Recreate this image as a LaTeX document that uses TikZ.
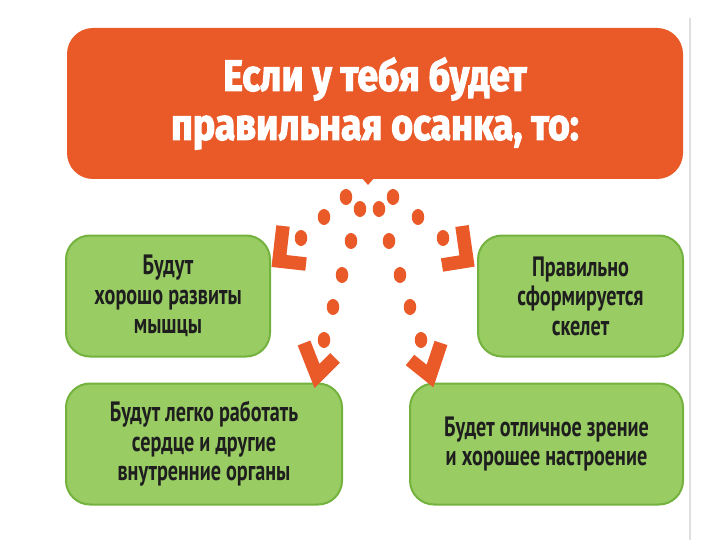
\documentclass[tikz,border=0pt]{standalone}
\usepackage{fontspec}
\setmainfont{PT Sans}
\newfontfamily\titlefont[FakeStretch=0.85, BoldFeatures={FakeBold=2.5}]{Fira Sans}
\newfontfamily\boxfont[FakeStretch=0.72]{PT Sans}
\usetikzlibrary{positioning, calc, shapes.geometric}

\definecolor{posture}{RGB}{234,90,40}
\definecolor{leaf}{RGB}{154,204,100}
\definecolor{leafline}{RGB}{116,178,62}
\definecolor{ink}{RGB}{30,30,30}

\tikzset{
    titlebox/.style={draw=none, fill=posture, rounded corners=26pt,
        minimum width=616pt, minimum height=151pt, text=white, align=center,
        font=\titlefont\bfseries\fontsize{44}{49}\selectfont},
    effect/.style={draw=leafline, line width=2pt, fill=leaf, rounded corners=24pt,
        minimum height=121pt, text=ink, align=center,
        font=\boxfont\bfseries\fontsize{28}{29.5}\selectfont},
    dot/.style={ellipse, fill=posture, inner sep=0pt,
        minimum width=12.5pt, minimum height=16pt},
    chevron/.style={draw=posture, line width=13.5pt, line join=miter}
}

\begin{document}
\begin{tikzpicture}[x=1pt, y=-1pt]
    \useasboundingbox (0,0) rectangle (720,540);
    \fill[white] (0,0) rectangle (720,540);
    \draw[gray!25, line width=2pt] (690,18) -- (690,540);

    % title
    \node[titlebox] (title) at (375,103.5) {Если у тебя будет\\правильная осанка, то:};
    \fill[posture] (361,177) -- (375,177) -- (368,185) -- cycle;

    % effects
    \node[effect, minimum width=204pt] (muscles) at (168,296) {Будут\\хорошо развиты\\мышцы};
    \node[effect, minimum width=205pt] (skeleton) at (580.5,296) {Правильно\\сформируется\\скелет};
    \node[effect, minimum width=276pt] (organs) at (204,444) {Будут легко работать\\сердце и другие\\внутренние органы};
    \node[effect, minimum width=273pt] (mood) at (546.5,444) {Будет отличное зрение\\и хорошее настроение};

    % dotted trails
    \foreach \px/\py [count=\i] in {346/197, 393/197, 360/209, 379/209, 324/217, 418/217,
        301/238, 443/238, 351/241, 389/241, 342/275, 400/275, 333/307, 410/307, 324/340, 421/340}
        \node[dot] (d\i) at (\px,\py) {};

    % arrow heads
    \draw[chevron] (283,226) -- (279,261) -- (306,264);
    \draw[chevron] (462,226) -- (467,261) -- (442,265);
    \draw[chevron] (304,343) -- (317,376) -- (335,358);
    \draw[chevron] (441,343) -- (430,376) -- (410,360);
\end{tikzpicture}
\end{document}
